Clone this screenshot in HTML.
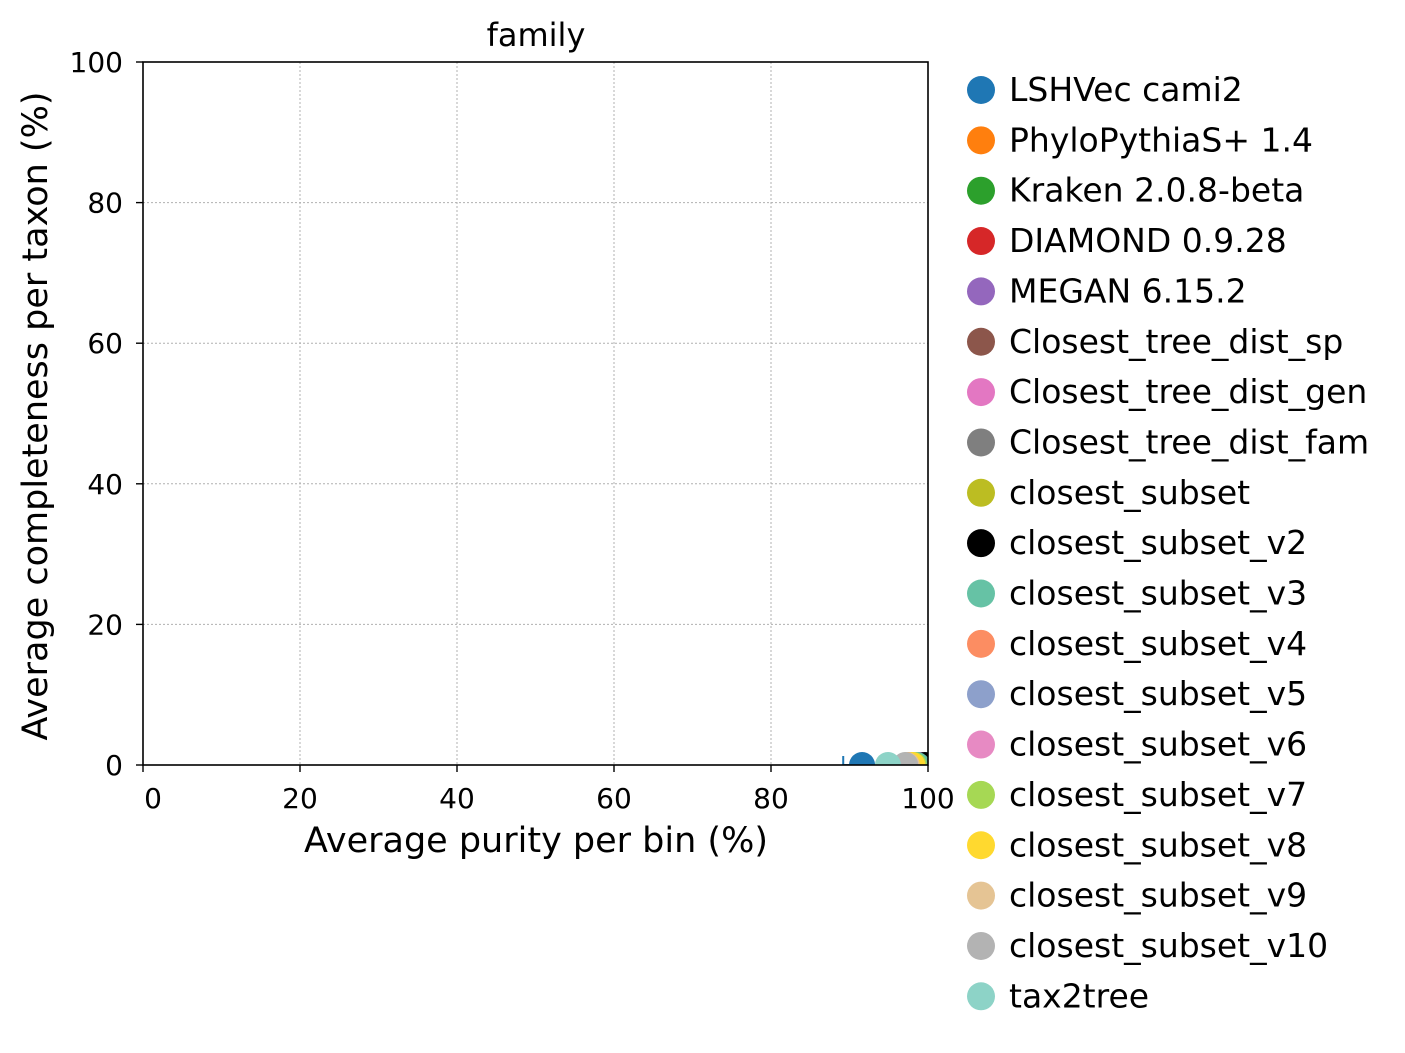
<!DOCTYPE html>
<html><head><meta charset="utf-8"><style>
body{margin:0;background:#fff;font-family:"DejaVu Sans","Liberation Sans",sans-serif;}
</style></head><body>
<svg width="1405" height="1049" xmlns="http://www.w3.org/2000/svg" font-family="DejaVu Sans, Liberation Sans, sans-serif">
<defs><clipPath id="pc"><rect x="143" y="62" width="785" height="703"/></clipPath></defs>
<g id="grid"></g>
<g id="marks" clip-path="url(#pc)"></g>
<rect x="143" y="62" width="785" height="703" fill="none" stroke="#000" stroke-width="1.6"/>
<g id="ticks"></g>
<text x="536" y="46" font-size="32" text-anchor="middle">family</text>
<text x="536" y="852" font-size="35" text-anchor="middle">Average purity per bin (%)</text>
<text transform="translate(47,416) rotate(-90)" font-size="35" text-anchor="middle">Average completeness per taxon (%)</text>
<g id="legend"></g>
</svg>
<script>
const names=["LSHVec cami2","PhyloPythiaS+ 1.4","Kraken 2.0.8-beta","DIAMOND 0.9.28","MEGAN 6.15.2","Closest_tree_dist_sp","Closest_tree_dist_gen","Closest_tree_dist_fam","closest_subset","closest_subset_v2","closest_subset_v3","closest_subset_v4","closest_subset_v5","closest_subset_v6","closest_subset_v7","closest_subset_v8","closest_subset_v9","closest_subset_v10","tax2tree"];
const colors=["#1f77b4","#ff7f0e","#2ca02c","#d62728","#9467bd","#8c564b","#e377c2","#7f7f7f","#bcbd22","#000000","#66c2a5","#fc8d62","#8da0cb","#e78ac3","#a6d854","#ffd92f","#e5c494","#b3b3b3","#8dd3c7"];
const purity=[91.6,97.5,98.8,99.0,99.2,98.5,98.3,98.6,98.4,99.6,98.6,97.8,98.0,98.1,98.2,98.0,97.3,97.1,94.9];
const completeness=[0,0,0,0,0,0,0,0,0,0,0,0,0,0,0,0,0,0,0];
const xTicks=[0,20,40,60,80,100];
const yTicks=[0,20,40,60,80,100];
const NS="http://www.w3.org/2000/svg";
const X=v=>143+v*7.85, Y=v=>765-v*7.03;
function mk(t,a,p){const e=document.createElementNS(NS,t);for(const k in a)e.setAttribute(k,a[k]);p.appendChild(e);return e;}
const grid=document.getElementById('grid'),ticks=document.getElementById('ticks'),marks=document.getElementById('marks'),leg=document.getElementById('legend');
xTicks.forEach(v=>{
 const g=mk('line',{x1:X(v),x2:X(v),y1:62,y2:765,stroke:'#b0b0b0','stroke-width':1,'stroke-dasharray':'2,2'},grid);
 
 
 mk('line',{x1:X(v),x2:X(v),y1:765,y2:772,stroke:'#000','stroke-width':1.4},ticks);
 const t=mk('text',{x:X(v)+(v===0?10:0),y:808,'font-size':28,'text-anchor':'middle'},ticks);t.textContent=v;
 
 
});
yTicks.forEach(v=>{
 const g=mk('line',{x1:143,x2:928,y1:Y(v),y2:Y(v),stroke:'#b0b0b0','stroke-width':1,'stroke-dasharray':'2,2'},grid);
 
 
 mk('line',{x1:136,x2:143,y1:Y(v),y2:Y(v),stroke:'#000','stroke-width':1.4},ticks);
 const t=mk('text',{x:123,y:Y(v)+10,'font-size':28,'text-anchor':'end'},ticks);t.textContent=v;
 
 
});
const eb=mk('line',{x1:X(89.2),x2:X(purity[0]),y1:Y(0),y2:Y(0),stroke:colors[0],'stroke-width':2},marks);


mk('line',{x1:X(89.2),x2:X(89.2),y1:Y(0)-9,y2:Y(0),stroke:colors[0],'stroke-width':2},marks);
names.forEach((n,i)=>{
 const c=mk('circle',{cx:X(purity[i]),cy:Y(completeness[i]),r:13,fill:colors[i]},marks);
 
 
 const y=90+i*50.35;
 const m=mk('circle',{cx:981,cy:y,r:14,fill:colors[i]},leg);
 
 
 const t=mk('text',{x:1009,y:y+11,'font-size':33},leg);t.textContent=n;
 
 
});
</script>
</body></html>
